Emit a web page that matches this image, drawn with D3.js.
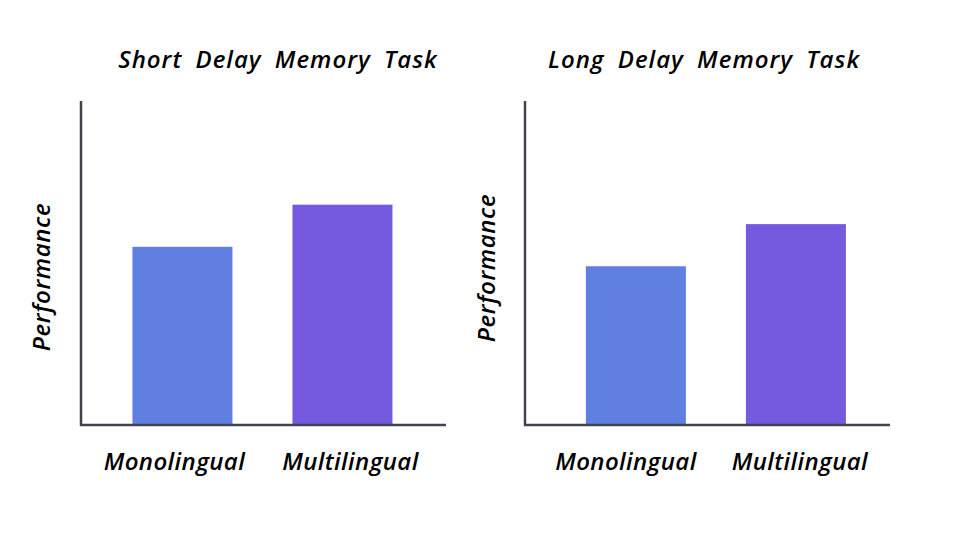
<!DOCTYPE html>
<html>
<head>
<meta charset="utf-8">
<script src="https://cdn.jsdelivr.net/npm/d3@7"></script>
<style>
  html, body { margin: 0; padding: 0; background: #ffffff; }
  svg { display: block; }
  text { font-family: "Humor Sans", "xkcd", "Comic Sans MS", "Open Sans", sans-serif; font-style: italic; font-weight: 600; fill: #000; }
</style>
</head>
<body>
<svg id="chart" width="960" height="540"></svg>
<script>
// ---- data ----
const categories = ["Monolingual", "Multilingual"];
const panelTitles = ["Short Delay Memory Task", "Long Delay Memory Task"];
const shortDelayValues = [55, 68];
const longDelayValues = [49, 62];
const yLabel = "Performance";
const barColors = ["#6080e1", "#755ae0"];

const panelsData = [
  { title: panelTitles[0], values: shortDelayValues },
  { title: panelTitles[1], values: longDelayValues }
];

// ---- layout ----
const W = 960, H = 540;
const panelLayout = [
  { x0: 81, x1: 446, align: 0.49, titleX: 278, ylabX: 42, ylabY: 277, labShift: [-8, 8] },
  { x0: 525, x1: 890, align: 0.58, titleX: 704, ylabX: 487, ylabY: 268, labShift: [-10, 4] }
];
const yTop = 101, yBase = 425;

const svg = d3.select("#chart");

panelsData.forEach((p, i) => {
  const L = panelLayout[i];
  const g = svg.append("g");

  const x = d3.scaleBand()
    .domain(categories)
    .range([L.x0, L.x1])
    .paddingInner(0.375)
    .paddingOuter(0.328)
    .align(L.align);

  const y = d3.scaleLinear().domain([0, 100]).range([yBase, yTop]);

  // bars
  g.selectAll("rect.bar")
    .data(categories.map((c, k) => ({ c, v: p.values[k], k })))
    .join("rect")
    .attr("class", "bar")
    .attr("x", d => x(d.c))
    .attr("y", d => y(d.v))
    .attr("width", x.bandwidth())
    .attr("height", d => y(0) - y(d.v))
    .attr("fill", d => barColors[d.k]);

  // axes (lines only)
  g.append("line")
    .attr("x1", L.x0).attr("x2", L.x0)
    .attr("y1", y.range()[1]).attr("y2", y(0) + 1)
    .attr("stroke", "#41444f").attr("stroke-width", 2.5);
  g.append("line")
    .attr("x1", L.x0 - 1).attr("x2", L.x1)
    .attr("y1", y(0)).attr("y2", y(0))
    .attr("stroke", "#41444f").attr("stroke-width", 2.5);

  // category labels
  g.selectAll("text.cat")
    .data(categories)
    .join("text")
    .attr("class", "cat")
    .attr("x", (d, k) => x(d) + x.bandwidth() / 2 + L.labShift[k])
    .attr("y", 470)
    .attr("text-anchor", "middle")
    .style("font-size", "24px")
    .style("letter-spacing", "0.4px")
    .text(d => d);

  // title
  g.append("text")
    .attr("x", L.titleX)
    .attr("y", 68)
    .attr("text-anchor", "middle")
    .style("font-size", "24px")
    .style("letter-spacing", "1px")
    .style("word-spacing", "6px")
    .text(p.title);

  // y label
  g.append("text")
    .attr("transform", `translate(${L.ylabX + 8},${L.ylabY}) rotate(-90)`)
    .attr("text-anchor", "middle")
    .style("font-size", "24px")
    .style("letter-spacing", "0.6px")
    .text(yLabel);
});
</script>
</body>
</html>
